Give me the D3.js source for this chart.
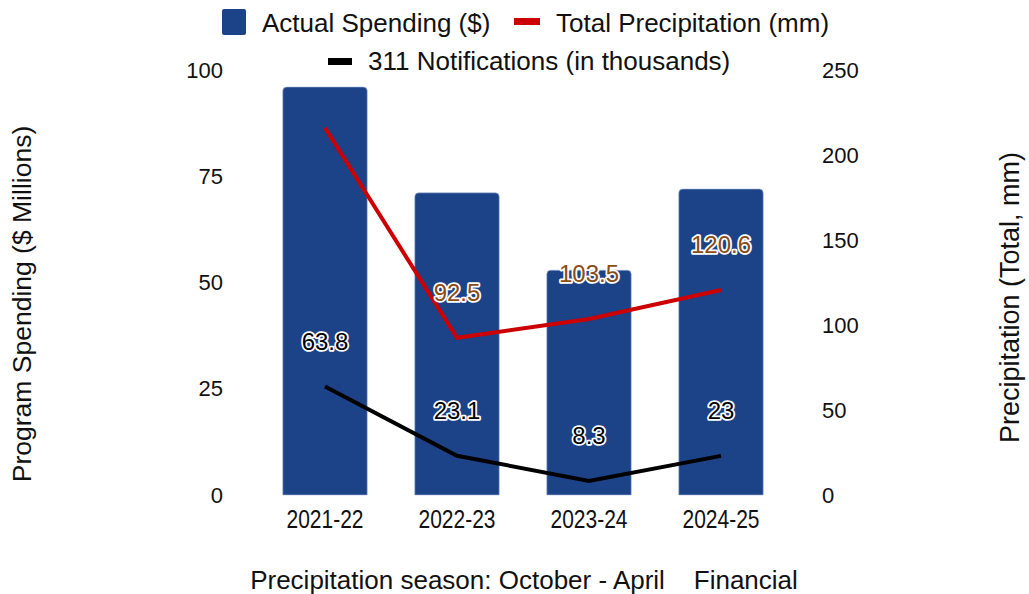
<!DOCTYPE html>
<html>
<head>
<meta charset="utf-8">
<script src="https://cdn.jsdelivr.net/npm/d3@7"></script>
<style>
  body { margin: 0; background: #fff; }
  text { font-family: "Liberation Sans", Arial, sans-serif; }
</style>
</head>
<body>
<script>
// chart values
const seasons = ['2021-22', '2022-23', '2023-24', '2024-25'];
const spending = [96, 71.1, 52.9, 72];          // $ millions, left axis
const precipitation = [216, 92.5, 103.5, 120.6]; // mm, right axis
const notifications = [63.8, 23.1, 8.3, 23];     // thousands, right axis
const precipLabels = [null, '92.5', '103.5', '120.6'];
const notifLabels = ['63.8', '23.1', '8.3', '23'];
const leftTicks = [0, 25, 50, 75, 100];
const rightTicks = [0, 50, 100, 150, 200, 250];

let width = 1029;
let height = 594;
let plot = { left: 259, right: 787, top: 70, bottom: 495 };

let svg = d3.select('body').append('svg')
  .attr('width', width)
  .attr('height', height);

let x = d3.scaleBand()
  .domain(seasons)
  .range([plot.left, plot.right])
  .paddingInner(0.36)
  .paddingOuter(0.18);

let yLeft = d3.scaleLinear().domain([0, 100]).range([plot.bottom, plot.top]);
let yRight = d3.scaleLinear().domain([0, 250]).range([plot.bottom, plot.top]);

//Bars with slightly rounded tops
svg.append('g')
  .selectAll('path')
  .data(spending)
  .enter().append('path')
  .attr('d', function(d, i) {
    let x0 = x(seasons[i]), w = x.bandwidth(), y0 = yLeft(d), y1 = yLeft(0), r = 4;
    return 'M' + x0 + ',' + y1 + 'V' + (y0 + r) + 'Q' + x0 + ',' + y0 + ' ' + (x0 + r) + ',' + y0 +
      'H' + (x0 + w - r) + 'Q' + (x0 + w) + ',' + y0 + ' ' + (x0 + w) + ',' + (y0 + r) + 'V' + y1 + 'Z';
  })
  .attr('fill', '#1c4288')
  .attr('stroke', '#a9bbdc')
  .attr('stroke-width', 0.6);

//Axes, no domain lines or tick marks
let leftAxis = svg.append('g')
  .attr('transform', 'translate(' + (plot.left - 36) + ',0)')
  .call(d3.axisLeft(yLeft).tickValues(leftTicks).tickSize(0).tickPadding(0));
let rightAxis = svg.append('g')
  .attr('transform', 'translate(' + (plot.right + 35) + ',0)')
  .call(d3.axisRight(yRight).tickValues(rightTicks).tickSize(0).tickPadding(0));
let bottomAxis = svg.append('g')
  .attr('transform', 'translate(0,' + (plot.bottom + 13) + ')')
  .call(d3.axisBottom(x).tickSize(0).tickPadding(0));

[leftAxis, rightAxis].forEach(function(a) {
  a.select('.domain').remove();
  a.selectAll('text')
    .style('font-family', '"Liberation Sans", Arial, sans-serif')
    .style('font-size', '22px')
    .attr('fill', '#111');
});
bottomAxis.select('.domain').remove();
bottomAxis.selectAll('text')
  .style('font-family', '"Liberation Sans", Arial, sans-serif')
  .style('font-size', '25px')
  .attr('fill', '#111')
  .attr('transform', 'scale(0.84,1)')   //squeeze to look like a narrow font
  .attr('dy', '0.8em');

//Lines
let lineRight = d3.line()
  .x(function(d, i) { return x(seasons[i]) + x.bandwidth() / 2; })
  .y(function(d) { return yRight(d); });

svg.append('path')
  .datum(precipitation)
  .attr('d', lineRight)
  .attr('fill', 'none')
  .attr('stroke', '#cc0000')
  .attr('stroke-width', 4);

svg.append('path')
  .datum(notifications)
  .attr('d', lineRight)
  .attr('fill', 'none')
  .attr('stroke', '#000')
  .attr('stroke-width', 4);

//Data labels: white halo drawn first, coloured text on top
function addLabels(values, labels, color) {
  let idx = d3.range(values.length).filter(function(i) { return labels[i] !== null; });
  let g = svg.append('g')
    .style('font-family', 'Roboto, "Liberation Sans", sans-serif')
    .style('font-size', '24px')
    .attr('text-anchor', 'middle');
  ['halo', 'label'].forEach(function(layer) {
    g.selectAll('text.' + layer)
      .data(idx)
      .enter().append('text')
      .attr('class', layer)
      .attr('x', function(i) { return x(seasons[i]) + x.bandwidth() / 2; })
      .attr('y', function(i) { return yRight(values[i]) - 37; })
      .attr('fill', layer === 'halo' ? '#fff' : color)
      .attr('stroke', layer === 'halo' ? '#fff' : 'none')
      .attr('stroke-width', layer === 'halo' ? 3.5 : 0)
      .attr('stroke-linejoin', 'round')
      .text(function(i) { return labels[i]; });
  });
}
addLabels(precipitation, precipLabels, '#8b4d17');
addLabels(notifications, notifLabels, '#000');

//Axis titles
svg.append('text')
  .attr('transform', 'translate(31,304)rotate(-90)')
  .attr('text-anchor', 'middle')
  .style('font-size', '26.5px')
  .attr('fill', '#111')
  .text('Program Spending ($ Millions)');

svg.append('text')
  .attr('transform', 'translate(1019,443)rotate(-90)')
  .attr('text-anchor', 'start')
  .style('font-size', '27px')
  .attr('fill', '#111')
  .text('Precipitation (Total, mm)');

svg.append('text')
  .attr('x', 524)
  .attr('y', 589)
  .attr('text-anchor', 'middle')
  .style('font-size', '26px')
  .style('white-space', 'pre')
  .attr('fill', '#111')
  .text('Precipitation season: October - April    Financial');

//Legend
let legend = svg.append('g').style('font-size', '26px');
legend.append('rect')
  .attr('x', 222).attr('y', 9).attr('width', 24).attr('height', 26).attr('rx', 2)
  .attr('fill', '#1c4288');
legend.append('text').attr('x', 262).attr('y', 32).attr('fill', '#111').text('Actual Spending ($)');
legend.append('rect')
  .attr('x', 514).attr('y', 18).attr('width', 26).attr('height', 7)
  .attr('fill', '#cc0000');
legend.append('text').attr('x', 556).attr('y', 32).attr('fill', '#111').text('Total Precipitation (mm)');
legend.append('rect')
  .attr('x', 328).attr('y', 58).attr('width', 24).attr('height', 7)
  .attr('fill', '#000');
legend.append('text').attr('x', 368).attr('y', 70).attr('fill', '#111').text('311 Notifications (in thousands)');
</script>
</body>
</html>
